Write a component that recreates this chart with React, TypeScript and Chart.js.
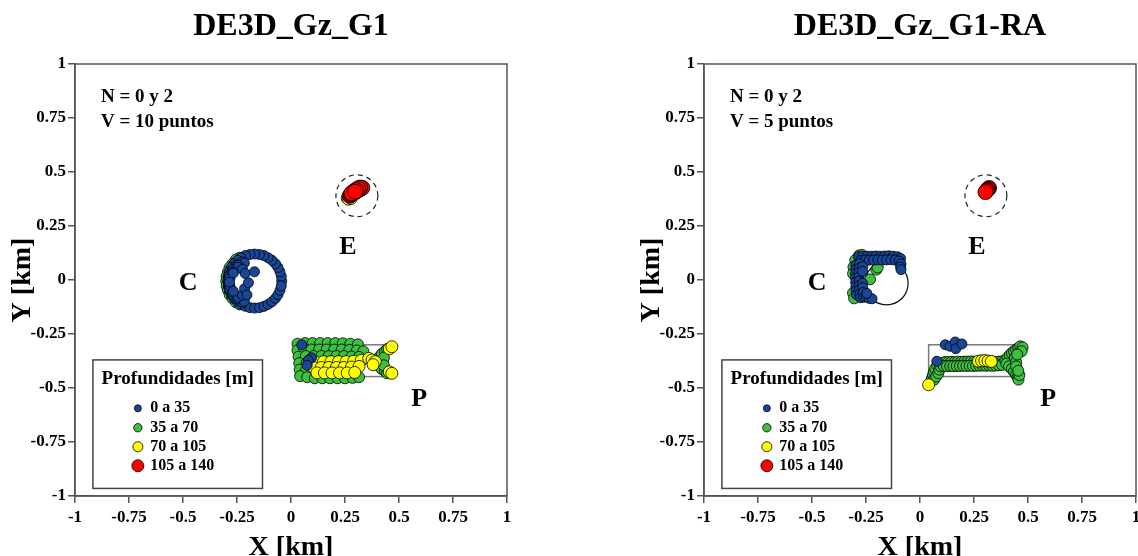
import React, { useEffect, useRef } from "react";
import { Chart, registerables } from "chart.js";

Chart.register(...registerables);

const FONT = "'Liberation Serif', 'Times New Roman', serif";
const AXIS = "#555555";

// ---------- shared axis / legend content ----------
const tickValues = [-1, -0.75, -0.5, -0.25, 0, 0.25, 0.5, 0.75, 1];
const tickLabels = ["-1", "-0.75", "-0.5", "-0.25", "0", "0.25", "0.5", "0.75", "1"];
const legendTitle = "Profundidades [m]";
const depthLabels = ["0 a 35", "35 a 70", "70 a 105", "105 a 140"];
const depthColors = ["#1a4699", "#3dbf3f", "#ffff00", "#ff0000"];
const pointRadii = [5, 5.5, 6, 7.5];
const legendRadii = [3.5, 4.2, 5, 6];
const drawOrder = [0, 3, 2, 1];
const siteLabels = ["C", "E", "P"];

// ---------- panel 1: DE3D_Gz_G1 ----------
const g1Title = "DE3D_Gz_G1";
const g1Notes = ["N = 0 y 2", "V = 10 puntos"];
const g1Blue: [number, number][] = [
  [-0.043, -0.005], [-0.045, 0.017], [-0.051, 0.038], [-0.06, 0.058], [-0.072, 0.075], [-0.088, 0.091],
  [-0.106, 0.103], [-0.125, 0.113], [-0.146, 0.118], [-0.168, 0.12], [-0.19, 0.118], [-0.211, 0.113],
  [-0.231, 0.103], [-0.248, 0.091], [-0.264, 0.075], [-0.276, 0.058], [-0.286, 0.038], [-0.291, 0.017],
  [-0.293, -0.005], [-0.291, -0.027], [-0.286, -0.048], [-0.276, -0.068], [-0.264, -0.085], [-0.248, -0.101],
  [-0.231, -0.113], [-0.211, -0.122], [-0.19, -0.128], [-0.168, -0.13], [-0.146, -0.128], [-0.125, -0.122],
  [-0.106, -0.113], [-0.088, -0.101], [-0.072, -0.085], [-0.06, -0.068], [-0.051, -0.048], [-0.045, -0.027],
  [-0.224, 0.084], [-0.254, 0.067], [-0.277, 0.04], [-0.289, 0.007], [-0.289, -0.027], [-0.277, -0.06],
  [-0.254, -0.087], [-0.224, -0.104],
  [-0.216, 0.079], [-0.245, 0.068], [-0.269, 0.048], [-0.285, 0.021], [-0.29, -0.01], [-0.285, -0.041],
  [-0.269, -0.068], [-0.245, -0.088], [-0.216, -0.099],
  [-0.245, 0.059], [-0.27, 0.037], [-0.283, 0.007], [-0.283, -0.027], [-0.27, -0.057], [-0.245, -0.079],
  [-0.225, 0.05], [-0.267, 0.032], [-0.285, -0.01], [-0.267, -0.052], [-0.225, -0.07],
  [-0.212, 0.03], [-0.215, -0.04],
  [-0.169, 0.038], [-0.197, -0.013], [-0.204, -0.069],
  [0.05, -0.3], [0.095, -0.36], [0.08, -0.372], [0.075, -0.395],
];
const g1Green: [number, number][] = [
  [-0.2375, 0.103], [-0.255, 0.095], [-0.271, 0.075], [-0.284, 0.058], [-0.292, 0.038], [-0.298, 0.017],
  [-0.3, -0.005], [-0.298, -0.027], [-0.292, -0.048], [-0.284, -0.068], [-0.271, -0.085], [-0.255, -0.103],
  [-0.2375, -0.113],
  [0.03, -0.295], [0.065, -0.292], [0.1, -0.292], [0.135, -0.292], [0.17, -0.292], [0.205, -0.292],
  [0.24, -0.293], [0.275, -0.295], [0.31, -0.298],
  [0.03, -0.325], [0.062, -0.322], [0.095, -0.322], [0.13, -0.322], [0.165, -0.322], [0.2, -0.322],
  [0.235, -0.322], [0.27, -0.324], [0.305, -0.326], [0.335, -0.33],
  [0.035, -0.355], [0.068, -0.352], [0.105, -0.352], [0.14, -0.352], [0.175, -0.352], [0.21, -0.352],
  [0.245, -0.352], [0.28, -0.354], [0.315, -0.356],
  [0.038, -0.385], [0.072, -0.385], [0.04, -0.415], [0.07, -0.415], [0.042, -0.445], [0.075, -0.45],
  [0.11, -0.455], [0.145, -0.455], [0.18, -0.455], [0.215, -0.455], [0.25, -0.455], [0.285, -0.453],
  [0.315, -0.45],
  [0.4, -0.37], [0.41, -0.355], [0.42, -0.343], [0.435, -0.33], [0.445, -0.32], [0.4, -0.385],
  [0.41, -0.4], [0.42, -0.412], [0.435, -0.422], [0.445, -0.432], [0.425, -0.375], [0.43, -0.36],
  [0.43, -0.395],
];
const g1Yellow: [number, number][] = [
  [0.115, -0.38], [0.15, -0.378], [0.185, -0.378], [0.22, -0.378], [0.255, -0.378], [0.29, -0.376],
  [0.325, -0.372],
  [0.105, -0.405], [0.14, -0.405], [0.175, -0.405], [0.21, -0.405], [0.245, -0.405], [0.28, -0.403],
  [0.315, -0.4],
  [0.12, -0.43], [0.155, -0.43], [0.19, -0.43], [0.225, -0.43], [0.26, -0.43], [0.295, -0.428],
  [0.36, -0.363], [0.375, -0.37], [0.39, -0.378], [0.38, -0.392],
  [0.455, -0.318], [0.467, -0.309], [0.455, -0.425], [0.467, -0.432],
  [0.26, 0.38], [0.266, 0.374], [0.272, 0.384], [0.278, 0.377],
];
const g1Red: [number, number][] = [
  [0.272, 0.39], [0.276, 0.393], [0.279, 0.396], [0.283, 0.398], [0.287, 0.401], [0.291, 0.404],
  [0.295, 0.406], [0.299, 0.409], [0.303, 0.412], [0.307, 0.414], [0.311, 0.417], [0.315, 0.419],
  [0.319, 0.421], [0.323, 0.423], [0.327, 0.425], [0.33, 0.427],
  [0.32, 0.428], [0.31, 0.424], [0.3, 0.417], [0.29, 0.41], [0.28, 0.402],
  [0.297, 0.409],
];

// ---------- panel 2: DE3D_Gz_G1-RA ----------
const raTitle = "DE3D_Gz_G1-RA";
const raNotes = ["N = 0 y 2", "V = 5 puntos"];
const raBlue: [number, number][] = [
  [-0.285, 0.108], [-0.265, 0.11], [-0.245, 0.11], [-0.225, 0.11], [-0.205, 0.111], [-0.185, 0.11],
  [-0.165, 0.111], [-0.145, 0.112], [-0.125, 0.11], [-0.105, 0.108], [-0.09, 0.1],
  [-0.275, 0.09], [-0.255, 0.092], [-0.235, 0.092], [-0.215, 0.092], [-0.195, 0.093], [-0.175, 0.092],
  [-0.155, 0.093], [-0.135, 0.094], [-0.115, 0.092], [-0.097, 0.088],
  [-0.088, 0.075], [-0.09, 0.06], [-0.088, 0.048],
  [-0.297, 0.07], [-0.297, 0.05], [-0.298, 0.03], [-0.298, 0.01], [-0.298, -0.01], [-0.297, -0.03],
  [-0.296, -0.05], [-0.294, -0.068],
  [-0.28, 0.075], [-0.281, 0.055], [-0.282, 0.035], [-0.282, 0.015], [-0.282, -0.005], [-0.281, -0.025],
  [-0.28, -0.045], [-0.278, -0.065], [-0.275, -0.082],
  [-0.265, 0.062], [-0.266, 0.04], [-0.266, -0.015], [-0.265, -0.035], [-0.262, -0.058], [-0.26, -0.08],
  [-0.248, -0.078], [-0.235, -0.085], [-0.222, -0.087], [-0.246, -0.062],
  [0.117, -0.3], [0.139, -0.307], [0.163, -0.287], [0.166, -0.318], [0.194, -0.296], [0.078, -0.376],
];
const raGreen: [number, number][] = [
  [-0.282, 0.114], [-0.268, 0.116], [-0.3, 0.092], [-0.308, 0.06], [-0.31, 0.03], [-0.31, -0.06],
  [-0.305, -0.085], [-0.202, 0.048], [-0.196, 0.058], [-0.231, 0.003],
  [0.05, -0.47], [0.055, -0.455], [0.06, -0.44], [0.065, -0.425], [0.07, -0.41], [0.08, -0.395],
  [0.065, -0.462], [0.075, -0.447], [0.085, -0.432], [0.09, -0.415], [0.095, -0.4], [0.1, -0.385],
  [0.115, -0.38], [0.13, -0.38], [0.145, -0.379], [0.16, -0.38], [0.175, -0.378], [0.19, -0.379],
  [0.205, -0.378], [0.22, -0.378], [0.235, -0.377], [0.25, -0.378], [0.265, -0.379], [0.35, -0.379],
  [0.365, -0.378], [0.38, -0.376],
  [0.11, -0.398], [0.125, -0.399], [0.14, -0.398], [0.155, -0.399], [0.17, -0.398], [0.185, -0.398],
  [0.2, -0.397], [0.215, -0.398], [0.23, -0.397], [0.245, -0.398], [0.26, -0.397], [0.275, -0.397],
  [0.29, -0.396], [0.305, -0.397], [0.32, -0.396], [0.335, -0.397], [0.35, -0.396], [0.365, -0.395],
  [0.38, -0.393],
  [0.395, -0.372], [0.405, -0.36], [0.415, -0.348], [0.425, -0.338], [0.435, -0.33], [0.445, -0.322],
  [0.455, -0.315], [0.464, -0.307], [0.475, -0.312], [0.47, -0.33],
  [0.4, -0.388], [0.412, -0.4], [0.425, -0.412], [0.435, -0.425], [0.445, -0.438], [0.452, -0.45],
  [0.456, -0.461], [0.46, -0.44],
  [0.44, -0.36], [0.445, -0.38], [0.445, -0.4], [0.45, -0.345], [0.455, -0.42],
];
const raYellow: [number, number][] = [
  [0.04, -0.485], [0.27, -0.376], [0.285, -0.374], [0.3, -0.373], [0.315, -0.375], [0.33, -0.377],
];
const raRed: [number, number][] = [
  [0.32, 0.426], [0.316, 0.422], [0.312, 0.418], [0.308, 0.413], [0.303, 0.407],
];

// ---------- layout (positions in km, styles) ----------
const LAYOUT = {
  noteX: -0.88,
  noteY: [0.849, 0.733],
  siteXY: [[-0.476, -0.016], [0.264, 0.15], [0.594, -0.552]],
  legendBox: [-0.917, -0.37, -0.132, -0.965],
  legendTitleY: -0.459,
  legendMarkerX: -0.709,
  legendTextX: -0.652,
  legendRowY: [-0.594, -0.684, -0.772, -0.86],
  rect: [0.04, -0.3, 0.44, -0.447],
  dashedCircle: [0.305, 0.39, 0.097],
  solidCircle: [-0.155, -0.015, 0.1],
};

type Panel = {
  key: string;
  title: string;
  notes: string[];
  series: [number, number][][];
  solid: boolean;
};

const PANELS: Panel[] = [
  { key: "g1", title: g1Title, notes: g1Notes, series: [g1Blue, g1Green, g1Yellow, g1Red], solid: false },
  { key: "ra", title: raTitle, notes: raNotes, series: [raBlue, raGreen, raYellow, raRed], solid: true },
];

function makeOverlay(p: Panel) {
  return {
    id: "overlay_" + p.key,
    beforeDatasetsDraw(chart: any) {
      const ctx = chart.ctx;
      const xs = chart.scales.x;
      const ys = chart.scales.y;
      const px = (v: number) => xs.getPixelForValue(v);
      const py = (v: number) => ys.getPixelForValue(v);
      ctx.save();
      const [rx0, ry0, rx1, ry1] = LAYOUT.rect;
      ctx.strokeStyle = "#7a7a7a";
      ctx.lineWidth = 1.5;
      ctx.strokeRect(px(rx0), py(ry0), px(rx1) - px(rx0), py(ry1) - py(ry0));
      const [dcx, dcy, dr] = LAYOUT.dashedCircle;
      ctx.setLineDash([5, 4]);
      ctx.strokeStyle = "#222";
      ctx.lineWidth = 1.2;
      ctx.beginPath();
      ctx.arc(px(dcx), py(dcy), px(dcx + dr) - px(dcx), 0, Math.PI * 2);
      ctx.stroke();
      ctx.setLineDash([]);
      if (p.solid) {
        const [scx, scy, sr] = LAYOUT.solidCircle;
        ctx.strokeStyle = "#111";
        ctx.lineWidth = 1.2;
        ctx.beginPath();
        ctx.arc(px(scx), py(scy), px(scx + sr) - px(scx), 0, Math.PI * 2);
        ctx.stroke();
      }
      ctx.restore();
    },
    afterDatasetsDraw(chart: any) {
      const ctx = chart.ctx;
      const xs = chart.scales.x;
      const ys = chart.scales.y;
      const px = (v: number) => xs.getPixelForValue(v);
      const py = (v: number) => ys.getPixelForValue(v);
      const a = chart.chartArea;
      ctx.save();
      ctx.strokeStyle = AXIS;
      ctx.lineWidth = 1.5;
      ctx.strokeRect(a.left, a.top, a.right - a.left, a.bottom - a.top);

      ctx.fillStyle = "#000";
      ctx.textBaseline = "middle";
      ctx.textAlign = "left";
      ctx.font = `bold 19px ${FONT}`;
      p.notes.forEach((t, i) => ctx.fillText(t, px(LAYOUT.noteX), py(LAYOUT.noteY[i])));

      ctx.textAlign = "center";
      ctx.font = `bold 26px ${FONT}`;
      siteLabels.forEach((t, i) => ctx.fillText(t, px(LAYOUT.siteXY[i][0]), py(LAYOUT.siteXY[i][1])));

      // legend box
      const [lx0, ly0, lx1, ly1] = LAYOUT.legendBox;
      ctx.fillStyle = "#fff";
      ctx.fillRect(px(lx0), py(ly0), px(lx1) - px(lx0), py(ly1) - py(ly0));
      ctx.strokeStyle = "#444";
      ctx.lineWidth = 1.5;
      ctx.strokeRect(px(lx0), py(ly0), px(lx1) - px(lx0), py(ly1) - py(ly0));
      ctx.fillStyle = "#000";
      ctx.font = `bold 19px ${FONT}`;
      ctx.textAlign = "center";
      ctx.fillText(legendTitle, (px(lx0) + px(lx1)) / 2, py(LAYOUT.legendTitleY));
      ctx.font = `bold 16px ${FONT}`;
      ctx.textAlign = "left";
      depthLabels.forEach((t, i) => {
        const y = py(LAYOUT.legendRowY[i]);
        ctx.beginPath();
        ctx.arc(px(LAYOUT.legendMarkerX), y, legendRadii[i], 0, Math.PI * 2);
        ctx.fillStyle = depthColors[i];
        ctx.fill();
        ctx.strokeStyle = "#000";
        ctx.lineWidth = 0.8;
        ctx.stroke();
        ctx.fillStyle = "#000";
        ctx.fillText(t, px(LAYOUT.legendTextX), y);
      });
      ctx.restore();
    },
  };
}

function axisScale(horizontal: boolean) {
  const base: any = {
    type: "linear",
    min: -1,
    max: 1,
    afterBuildTicks: (s: any) => {
      s.ticks = tickValues.map((v) => ({ value: v }));
    },
    ticks: {
      autoSkip: false,
      maxRotation: 0,
      color: "#000",
      font: { family: FONT, size: 17, weight: "bold", lineHeight: 1.2 },
      padding: horizontal ? 4 : 2,
      callback: (_v: any, i: number) => tickLabels[i],
    },
    grid: {
      drawOnChartArea: false,
      drawTicks: true,
      tickLength: 7,
      tickColor: AXIS,
      color: AXIS,
      lineWidth: 1.5,
    },
    border: { display: true, color: AXIS, width: 1.5 },
  };
  if (horizontal) {
    base.position = "bottom";
    base.title = {
      display: true,
      text: "X [km]",
      color: "#000",
      font: { family: FONT, size: 28, weight: "bold", lineHeight: 0.5 },
      padding: { top: 0, bottom: 1 },
    };
    base.afterFit = (s: any) => {
      s.height = 60;
    };
  } else {
    base.position = "left";
    base.title = {
      display: true,
      text: "Y [km]",
      color: "#000",
      font: { family: FONT, size: 28, weight: "bold", lineHeight: 1.2 },
      padding: { top: 6, bottom: 0 },
    };
    base.afterFit = (s: any) => {
      s.width = 75;
    };
  }
  return base;
}

function PanelChart({ panel, left }: { panel: Panel; left: number }) {
  const ref = useRef<HTMLCanvasElement>(null);
  useEffect(() => {
    const datasets = panel.series.map((pts, i) => ({
      label: depthLabels[i],
      data: pts.map(([x, y]) => ({ x, y })),
      showLine: false,
      backgroundColor: depthColors[i],
      borderColor: "#000",
      borderWidth: 0.8,
      pointRadius: pointRadii[i],
      pointHoverRadius: pointRadii[i],
      order: drawOrder[i],
    }));
    const chart = new Chart(ref.current as HTMLCanvasElement, {
      type: "scatter",
      data: { datasets },
      options: {
        animation: false,
        responsive: true,
        maintainAspectRatio: false,
        events: [],
        layout: { padding: { left: 0, right: 33, top: 0, bottom: 0 } },
        plugins: {
          legend: { display: false },
          tooltip: { enabled: false },
          title: {
            display: true,
            fullSize: false,
            text: panel.title,
            color: "#000",
            font: { family: FONT, size: 32, weight: "bold", lineHeight: 1.2 },
            padding: { top: 8, bottom: 17.6 },
          },
        },
        scales: { x: axisScale(true), y: axisScale(false) },
      } as any,
      plugins: [makeOverlay(panel)],
    });
    return () => chart.destroy();
  }, [panel]);
  return (
    <div style={{ position: "absolute", left, top: 0, width: 540, height: 556 }}>
      <canvas ref={ref} />
    </div>
  );
}

export default function App() {
  return (
    <div
      style={{
        position: "fixed",
        left: 0,
        top: 0,
        width: 1138,
        height: 556,
        overflow: "hidden",
        background: "#fff",
      }}
    >
      <PanelChart panel={PANELS[0]} left={0} />
      <PanelChart panel={PANELS[1]} left={629} />
    </div>
  );
}
